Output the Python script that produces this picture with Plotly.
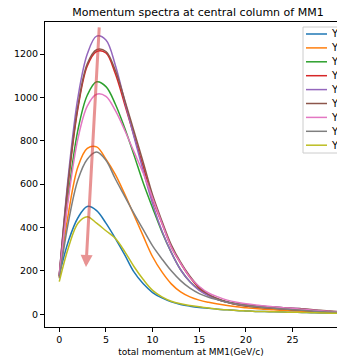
import plotly.graph_objects as go

# ---- data ----
momentum = list(range(31))  # GeV/c
labels = ["Y=-40cm", "Y=-30cm", "Y=-20cm", "Y=-10cm", "Y=0cm",
          "Y=10cm", "Y=20cm", "Y=30cm", "Y=40cm"]
blue = [180, 340, 445, 497, 478, 420, 350, 275, 195, 140, 100, 75, 57, 45, 37, 31,
        27, 23, 20, 17, 15, 13, 12, 11, 10, 9, 8, 7, 6, 6, 5]
orange = [170, 470, 680, 765, 772, 715, 645, 555, 458, 360, 265, 195, 140, 103, 80, 65,
          55, 47, 40, 34, 30, 26, 23, 20, 18, 16, 14, 12, 10, 9, 8]
green = [175, 560, 850, 1010, 1072, 1050, 970, 860, 735, 605, 490, 380, 285, 205, 150, 113,
         88, 68, 55, 45, 38, 33, 30, 27, 24, 22, 19, 16, 13, 11, 9]
red = [175, 620, 950, 1145, 1212, 1205, 1110, 970, 825, 680, 530, 420, 310, 235, 170, 120,
       88, 68, 55, 45, 38, 34, 30, 27, 24, 21, 18, 15, 13, 11, 10]
purple = [180, 650, 1000, 1200, 1283, 1265, 1150, 985, 820, 660, 510, 385, 285, 205, 150, 110,
          85, 68, 55, 47, 42, 39, 36, 33, 30, 28, 25, 20, 16, 13, 10]
brown = [180, 630, 960, 1155, 1220, 1212, 1125, 990, 845, 700, 550, 430, 320, 240, 175, 125,
         92, 72, 58, 50, 44, 40, 36, 33, 30, 28, 25, 22, 18, 15, 12]
pink = [180, 540, 810, 960, 1015, 1005, 940, 850, 750, 650, 535, 420, 310, 235, 170, 128,
        98, 80, 65, 55, 48, 43, 38, 34, 30, 27, 23, 19, 16, 13, 11]
gray = [165, 430, 620, 715, 748, 710, 625, 545, 465, 390, 315, 255, 200, 155, 120, 95,
        78, 66, 55, 47, 40, 35, 31, 27, 24, 21, 18, 15, 12, 10, 8]
olive = [150, 310, 420, 450, 420, 385, 350, 290, 220, 160, 110, 80, 60, 48, 40, 34,
         29, 23, 20, 17, 15, 13, 12, 11, 10, 9, 8, 7, 6, 5, 5]
series = [blue, orange, green, red, purple, brown, pink, gray, olive]
colors = ["#1f77b4", "#ff7f0e", "#2ca02c", "#d62728", "#9467bd",
          "#8c564b", "#e377c2", "#7f7f7f", "#bcbd22"]
arrow_start = (4.29, 1330)
arrow_end = (2.86, 218)
x_ticks = [0, 5, 10, 15, 20, 25, 30]
y_ticks = [0, 200, 400, 600, 800, 1000, 1200]

W, H = 337, 357
L, R, T, B = 45, 0, 22, 30

fig = go.Figure()
for vals, name, col in zip(series, labels, colors):
    fig.add_trace(go.Scatter(x=momentum, y=vals, mode="lines", name=name,
                             line=dict(color=col, width=1.5, shape="spline", smoothing=1.0),
                             showlegend=False))

# arrow
fig.add_annotation(x=arrow_end[0], y=arrow_end[1], ax=arrow_start[0], ay=arrow_start[1],
                   xref="x", yref="y", axref="x", ayref="y", text="", showarrow=True,
                   arrowhead=2, arrowsize=0.8, arrowwidth=3,
                   arrowcolor="rgba(214,60,60,0.55)")

# manual legend (matplotlib style, cropped by the figure's right edge)
pw = W - L - R
ph = H - T - B
def px2paper_x(px):
    return (px - L) / pw
def px2paper_y(py):
    return (H - B - py) / ph

box_l, box_t, box_b = 303, 27, 153
fig.add_shape(type="rect", xref="paper", yref="paper",
              x0=px2paper_x(box_l), x1=px2paper_x(box_l + 80),
              y0=px2paper_y(box_b), y1=px2paper_y(box_t),
              line=dict(color="#cccccc", width=1), fillcolor="rgba(255,255,255,0.8)",
              layer="above")
for i, (name, col) in enumerate(zip(labels, colors)):
    yc = 34 + i * 13.9
    fig.add_shape(type="line", xref="paper", yref="paper",
                  x0=px2paper_x(306), x1=px2paper_x(327),
                  y0=px2paper_y(yc), y1=px2paper_y(yc),
                  line=dict(color=col, width=1.5), layer="above")
    fig.add_annotation(x=px2paper_x(330), y=px2paper_y(yc), xref="paper", yref="paper",
                       text=name, showarrow=False, xanchor="left", yanchor="middle",
                       borderpad=0, font=dict(size=10, color="black"))

axis_common = dict(showgrid=False, zeroline=False, showline=True, linecolor="black",
                   linewidth=1, ticks="outside", ticklen=4, tickwidth=1, tickcolor="black",
                   tickfont=dict(size=9.5, color="black"))

fig.update_layout(
    width=W, height=H,
    margin=dict(l=L, r=R, t=T, b=B),
    paper_bgcolor="white", plot_bgcolor="white",
    font=dict(family="DejaVu Sans", color="black"),
    title=dict(text="Momentum spectra at central column of MM1",
               x=198 / W, xref="container", xanchor="center",
               y=1 - 12 / H, yref="container", yanchor="middle",
               font=dict(size=11, color="black")),
    xaxis=dict(range=[-1.53, 29.76], tickvals=x_ticks, mirror=True,
               title=dict(text="total momentum at MM1(GeV/c)", font=dict(size=9), standoff=4),
               **axis_common),
    yaxis=dict(range=[-59, 1348], tickvals=y_ticks, **axis_common),
)

fig.write_html("out.html")
